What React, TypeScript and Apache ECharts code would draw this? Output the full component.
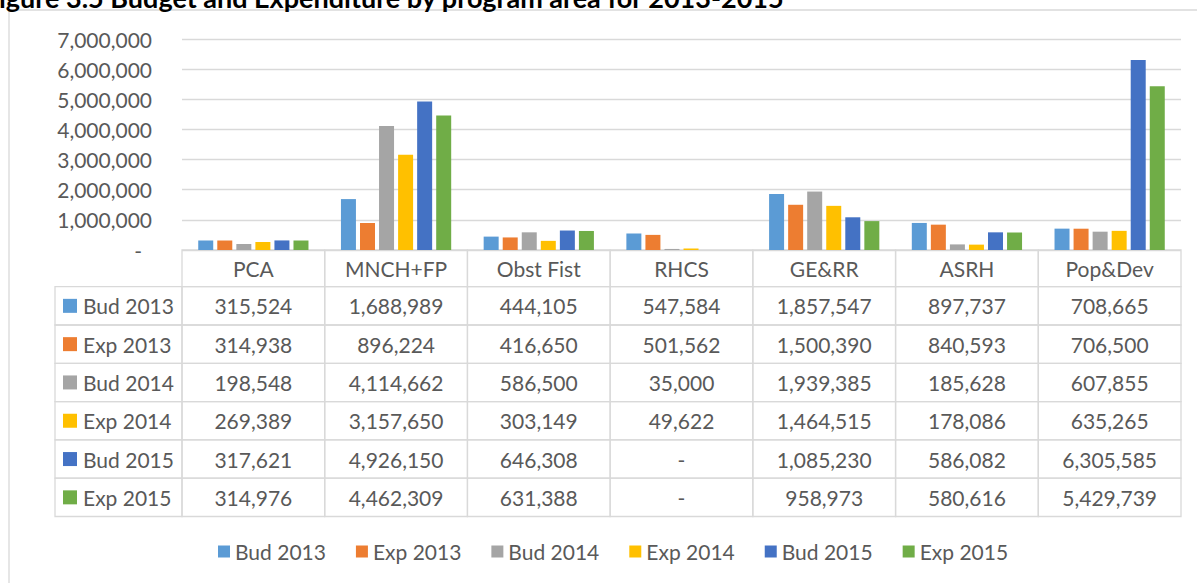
import React, { useEffect, useRef } from "react";
import * as echarts from "echarts";

const categories = ["PCA", "MNCH+FP", "Obst Fist", "RHCS", "GE&RR", "ASRH", "Pop&Dev"];
const seriesNames = ["Bud 2013", "Exp 2013", "Bud 2014", "Exp 2014", "Bud 2015", "Exp 2015"];
const bud2013 = [315524, 1688989, 444105, 547584, 1857547, 897737, 708665];
const exp2013 = [314938, 896224, 416650, 501562, 1500390, 840593, 706500];
const bud2014 = [198548, 4114662, 586500, 35000, 1939385, 185628, 607855];
const exp2014 = [269389, 3157650, 303149, 49622, 1464515, 178086, 635265];
const bud2015 = [317621, 4926150, 646308, null, 1085230, 586082, 6305585];
const exp2015 = [314976, 4462309, 631388, null, 958973, 580616, 5429739];
const yTicks = [0, 1000000, 2000000, 3000000, 4000000, 5000000, 6000000, 7000000];
const titleText = "igure 3.5 Budget and Expenditure by program area for 2013-2015";

const allSeries = [bud2013, exp2013, bud2014, exp2014, bud2015, exp2015];
const colors = ["#5B9BD5", "#ED7D31", "#A5A5A5", "#FFC000", "#4472C4", "#70AD47"];

const W = 1197;
const H = 583;
const GRID_L = 182;
const GRID_R = 1181;
const GRID_TOP = 39;
const AXIS_Y = 250;
const FONT = "Lato, 'Open Sans', sans-serif";
const FS = 21;
const TXT = "#595959";
const BORDER = "#d9d9d9";

function fmt(v: number | null): string {
  if (v === null || v === undefined) return "-";
  return v.toLocaleString("en-US");
}

export default function App() {
  const ref = useRef<HTMLDivElement>(null);
  useEffect(() => {
    if (!ref.current) return;
    const chart = echarts.init(ref.current, undefined, { renderer: "svg" });
    const colW = (GRID_R - GRID_L) / categories.length;
    const headH = 36.7;
    const rowH = 38.3;
    const labelL = 55;
    const els: any[] = [];
    const cellStyle = { fill: "rgba(0,0,0,0)", stroke: BORDER, lineWidth: 1.3 };
    categories.forEach((c, i) => {
      els.push({ type: "rect", shape: { x: GRID_L + i * colW, y: AXIS_Y, width: colW, height: headH }, style: cellStyle, silent: true });
      els.push({ type: "text", x: GRID_L + (i + 0.5) * colW, y: AXIS_Y + headH / 2, style: { text: c, align: "center", verticalAlign: "middle", fill: TXT, fontSize: FS, fontFamily: FONT }, silent: true });
    });
    allSeries.forEach((arr, r) => {
      const y0 = AXIS_Y + headH + r * rowH;
      els.push({ type: "rect", shape: { x: labelL, y: y0, width: GRID_L - labelL, height: rowH }, style: cellStyle, silent: true });
      els.push({ type: "rect", shape: { x: 63, y: y0 + rowH / 2 - 7, width: 14, height: 14 }, style: { fill: colors[r] }, silent: true });
      els.push({ type: "text", x: 83, y: y0 + rowH / 2, style: { text: seriesNames[r], align: "left", verticalAlign: "middle", fill: TXT, fontSize: FS, fontFamily: FONT }, silent: true });
      arr.forEach((v, i) => {
        els.push({ type: "rect", shape: { x: GRID_L + i * colW, y: y0, width: colW, height: rowH }, style: cellStyle, silent: true });
        els.push({ type: "text", x: GRID_L + (i + 0.5) * colW, y: y0 + rowH / 2, style: { text: fmt(v), align: "center", verticalAlign: "middle", fill: TXT, fontSize: FS, fontFamily: FONT }, silent: true });
      });
    });
    els.push({ type: "rect", shape: { x: 9, y: 10, width: 1300, height: 700 }, style: { fill: "rgba(0,0,0,0)", stroke: BORDER, lineWidth: 1.3 }, silent: true, z: -1 });
    els.push({ type: "text", x: -1, y: 11, style: { text: titleText, align: "left", verticalAlign: "bottom", fill: "#000", fontSize: 27, fontWeight: "bold", fontFamily: FONT }, silent: true });

    chart.setOption({
      animation: false,
      backgroundColor: "#fff",
      color: colors,
      grid: { left: GRID_L, right: W - GRID_R, top: GRID_TOP, bottom: H - AXIS_Y, containLabel: false },
      legend: {
        data: seriesNames,
        left: 213,
        top: 536,
        itemWidth: 12,
        itemHeight: 12,
        itemGap: 30,
        icon: "rect",
        textStyle: { color: TXT, fontSize: FS, fontFamily: FONT },
      },
      xAxis: {
        type: "category",
        data: categories,
        axisLine: { show: false },
        axisTick: { show: false },
        axisLabel: { show: false },
      },
      yAxis: {
        type: "value",
        min: yTicks[0],
        max: yTicks[yTicks.length - 1],
        interval: yTicks[1] - yTicks[0],
        axisLine: { show: false },
        axisTick: { show: false },
        splitLine: { lineStyle: { color: BORDER, width: 1.3 } },
        axisLabel: {
          margin: 30,
          color: TXT,
          fontSize: FS,
          fontFamily: FONT,
          formatter: (v: number) => (v === 0 ? "{z|-}" : v.toLocaleString("en-US")),
          rich: { z: { padding: [0, 10, 0, 0], color: TXT, fontSize: FS, fontFamily: FONT } },
        },
      },
      series: allSeries.map((arr, i) => ({
        name: seriesNames[i],
        type: "bar",
        data: arr,
        barWidth: 15,
        barGap: "27%",
      })),
      graphic: els,
    });
    return () => chart.dispose();
  }, []);
  return <div ref={ref} style={{ position: "fixed", left: 0, top: 0, width: W, height: H }} />;
}
